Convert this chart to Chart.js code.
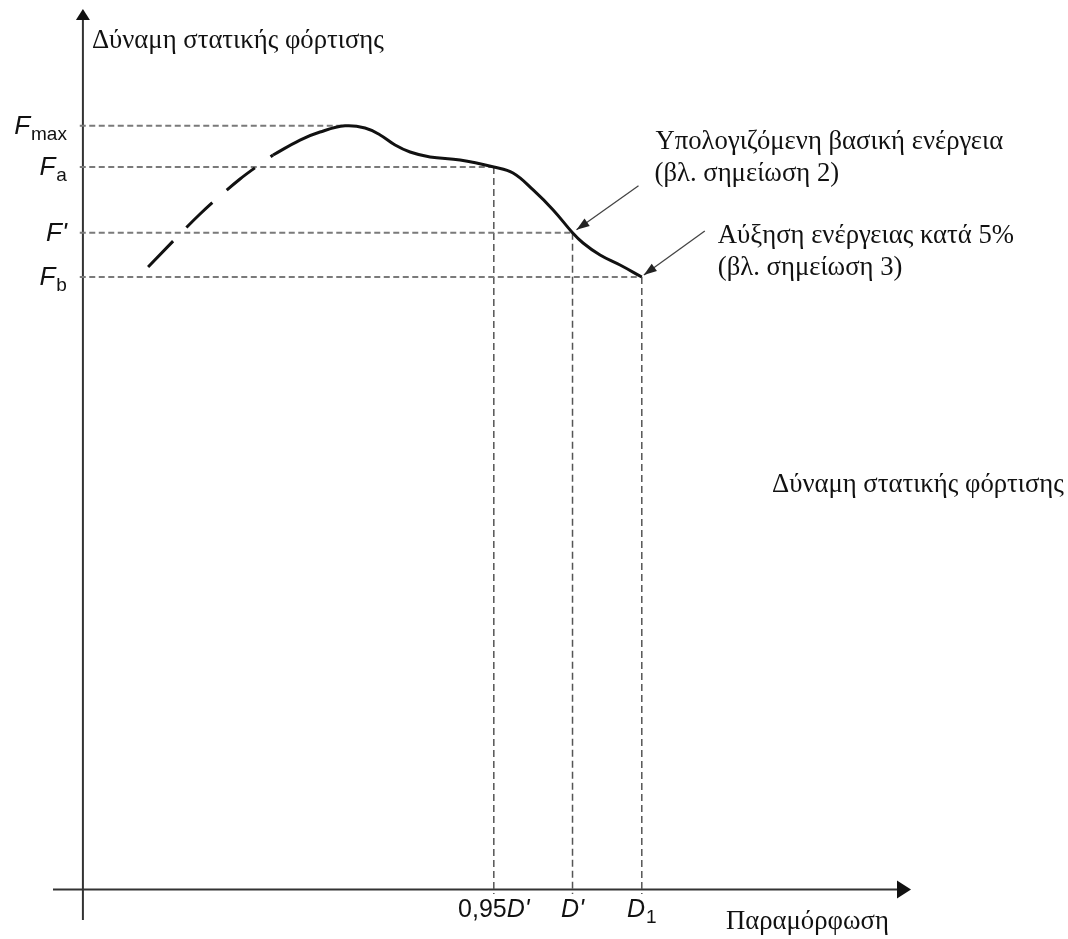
<!DOCTYPE html>
<html>
<head>
<meta charset="utf-8">
<title>Δύναμη στατικής φόρτισης – Παραμόρφωση</title>
<script src="https://cdn.jsdelivr.net/npm/chart.js@4.4.1/dist/chart.umd.min.js"></script>
<style>
  html, body { margin: 0; padding: 0; background: #ffffff; }
  #wrap { position: relative; width: 1068px; height: 939px; }
</style>
</head>
<body>
<div id="wrap"><canvas id="chart"></canvas></div>
<script>
// ---- data -------------------------------------------------------------
// Rising (dashed) part of the load–deformation curve
const rampX = [73.04, 76.34, 78.88, 80.98];
const rampY = [81.51, 88.45, 93.04, 96.18];

// Solid part of the curve, from the rise through Fmax down to D1
const curveX = [80.98, 82.69, 83.96, 85.55, 86.82, 87.78, 88.73, 89.68, 90.95,
                92.86, 95.00, 96.22, 97.50, 98.77, 100.00, 100.67, 101.75, 103.02, 104.40];
const curveY = [96.18, 98.14, 99.19, 100.00, 99.72, 98.80, 97.49, 96.57, 95.92,
                95.53, 94.60, 93.82, 91.60, 88.98, 86.00, 84.66, 83.08, 81.77, 80.20];

// Characteristic deformations
const dPrime = 100;
const d95 = 0.95 * dPrime;
const d1 = 104.4;

// Characteristic forces and the deformation where each one meets the curve
const forceLevels = [100.0, 94.6, 86.0, 80.2];          // Fmax, Fa, F', Fb
const forceReach  = [85.55, d95, dPrime, d1];
const forceLabels = [['F', 'max'], ['F', 'a'], ["F'", ''], ['F', 'b']];

// Deformation markers and the force on the curve at each one
const deformLevels = [d95, dPrime, d1];
const deformReach  = [94.6, 86.0, 80.2];
const deformLabels = [['0,95', "D'", ''], ['', "D'", ''], ['', 'D', '1']];

// Axis extents (deformation, force) and where the two axes cross
const xRange = [67, 121.5];
const yRange = [-4, 115.3];
const axisCross = [68.9, 0];
const guideStart = 68.7;

// Texts
const yTitle = 'Δύναμη στατικής φόρτισης';
const xTitle = 'Παραμόρφωση';
const note1 = ['Υπολογιζόμενη βασική ενέργεια', '(βλ. σημείωση 2)'];
const note2 = ['Αύξηση ενέργειας κατά 5%', '(βλ. σημείωση 3)'];

// ---- datasets ---------------------------------------------------------
const pts = (xs, ys) => xs.map((x, i) => ({ x: x, y: ys[i] }));

const datasets = [
  {
    label: 'curve',
    data: pts(curveX, curveY),
    borderColor: '#111111',
    borderWidth: 3,
    tension: 0.4,
    pointRadius: 0,
    order: 0
  },
  {
    label: 'ramp',
    data: pts(rampX, rampY),
    borderColor: '#111111',
    borderWidth: 3,
    borderDash: [36, 19],
    borderCapStyle: 'butt',
    tension: 0.3,
    pointRadius: 0,
    order: 0
  }
];

forceLevels.forEach((f, i) => {
  datasets.push({
    label: 'force-guide-' + i,
    data: [{ x: guideStart, y: f }, { x: forceReach[i], y: f }],
    borderColor: '#7a7a7a',
    borderWidth: 2,
    borderDash: [6, 3.5],
    pointRadius: 0,
    order: 2
  });
});

deformLevels.forEach((d, i) => {
  datasets.push({
    label: 'deform-guide-' + i,
    data: [{ x: d, y: deformReach[i] }, { x: d, y: -0.6 }],
    borderColor: '#555555',
    borderWidth: 1.5,
    borderDash: [7, 4],
    pointRadius: 0,
    order: 2
  });
});

// ---- drawing helpers --------------------------------------------------
const SANS = '"Liberation Sans", Arial, sans-serif';
const SERIF = '"Liberation Serif", "Times New Roman", serif';

function arrowHead(ctx, tipX, tipY, fromX, fromY, len, half) {
  const a = Math.atan2(tipY - fromY, tipX - fromX);
  ctx.beginPath();
  ctx.moveTo(tipX, tipY);
  ctx.lineTo(tipX - len * Math.cos(a) + half * Math.sin(a), tipY - len * Math.sin(a) - half * Math.cos(a));
  ctx.lineTo(tipX - len * Math.cos(a) - half * Math.sin(a), tipY - len * Math.sin(a) + half * Math.cos(a));
  ctx.closePath();
  ctx.fill();
}

// draws [plain, italic, subscript] pieces, aligned at x ('right' or 'center')
function symbol(ctx, parts, x, baseline, align, size, subSize) {
  const fonts = [size + 'px ' + SANS, 'italic ' + size + 'px ' + SANS, subSize + 'px ' + SANS];
  const widths = parts.map((t, i) => { ctx.font = fonts[i]; return t ? ctx.measureText(t).width : 0; });
  const gap = parts[2] ? 1 : 0;
  const total = widths[0] + widths[1] + gap + widths[2];
  let cx = align === 'right' ? x - total : x - total / 2;
  parts.forEach((t, i) => {
    if (!t) return;
    ctx.font = fonts[i];
    const by = i === 2 ? baseline + 6 : baseline;
    ctx.fillText(t, cx + (i === 2 ? gap : 0), by);
    cx += widths[i] + (i === 2 ? gap : 0);
  });
}

const sketch = {
  id: 'sketch',
  beforeDatasetsDraw(chart) {
    const ctx = chart.ctx, xs = chart.scales.x, ys = chart.scales.y, area = chart.chartArea;
    const ax = xs.getPixelForValue(axisCross[0]);
    const ay = ys.getPixelForValue(axisCross[1]);
    ctx.save();
    ctx.strokeStyle = '#333333';
    ctx.fillStyle = '#111111';
    ctx.lineWidth = 2;
    // vertical (force) axis
    ctx.beginPath();
    ctx.moveTo(ax, area.bottom);
    ctx.lineTo(ax, area.top + 8);
    ctx.stroke();
    arrowHead(ctx, ax, area.top, ax, area.top + 20, 11, 7);
    // horizontal (deformation) axis
    ctx.beginPath();
    ctx.moveTo(area.left, ay);
    ctx.lineTo(area.right - 10, ay);
    ctx.stroke();
    arrowHead(ctx, area.right, ay, area.right - 20, ay, 14, 9);
    ctx.restore();
  },
  afterDatasetsDraw(chart) {
    const ctx = chart.ctx, xs = chart.scales.x, ys = chart.scales.y;
    const ax = xs.getPixelForValue(axisCross[0]);
    const ay = ys.getPixelForValue(axisCross[1]);
    ctx.save();
    ctx.fillStyle = '#111111';
    ctx.textBaseline = 'alphabetic';
    ctx.textAlign = 'left';

    // force symbols beside the vertical axis
    forceLevels.forEach((f, i) => {
      const lab = forceLabels[i];
      symbol(ctx, ['', lab[0], lab[1]], ax - 16, ys.getPixelForValue(f) + 8, 'right', 26, 19);
    });

    // deformation symbols under the horizontal axis
    deformLevels.forEach((d, i) => {
      symbol(ctx, deformLabels[i], xs.getPixelForValue(d), ay + 28, 'center', 25, 19);
    });

    // Greek captions: one serif size for all of them
    ctx.font = '20px ' + SERIF;
    const fit = 348 / ctx.measureText(note1[0]).width;
    const serifSize = Math.round(20 * fit * 10) / 10;
    ctx.font = serifSize + 'px ' + SERIF;

    ctx.fillText(yTitle, ax + 9, 48);
    ctx.fillText(yTitle, 772, 492);
    ctx.fillText(xTitle, 726, ay + 40);

    // callouts pointing at (D', F') and (D1, Fb)
    const p1x = xs.getPixelForValue(dPrime), p1y = ys.getPixelForValue(forceLevels[2]);
    const p2x = xs.getPixelForValue(d1),     p2y = ys.getPixelForValue(forceLevels[3]);
    ctx.fillText(note1[0], p1x + 83, p1y - 84);
    ctx.fillText(note1[1], p1x + 82, p1y - 52);
    ctx.fillText(note2[0], p2x + 76, p2y - 34);
    ctx.fillText(note2[1], p2x + 76, p2y - 2);

    ctx.strokeStyle = '#444444';
    ctx.fillStyle = '#222222';
    ctx.lineWidth = 1.3;
    const callouts = [
      [p1x + 4, p1y - 3, p1x + 66, p1y - 47],
      [p2x + 2, p2y - 2, p2x + 63, p2y - 46]
    ];
    callouts.forEach(([tx, ty, fx, fy]) => {
      ctx.beginPath();
      ctx.moveTo(fx, fy);
      ctx.lineTo(tx, ty);
      ctx.stroke();
      arrowHead(ctx, tx, ty, fx, fy, 13, 4.5);
    });
    ctx.restore();
  }
};

new Chart(document.getElementById('chart'), {
  type: 'scatter',
  data: { datasets: datasets.map(d => Object.assign({ showLine: true, fill: false }, d)) },
  options: {
    responsive: true,
    maintainAspectRatio: false,
    animation: false,
    events: [],
    layout: { padding: { left: 53, right: 157, top: 9, bottom: 19 } },
    scales: {
      x: { type: 'linear', min: xRange[0], max: xRange[1], display: false },
      y: { type: 'linear', min: yRange[0], max: yRange[1], display: false }
    },
    plugins: { legend: { display: false }, tooltip: { enabled: false } }
  },
  plugins: [sketch]
});
</script>
</body>
</html>
